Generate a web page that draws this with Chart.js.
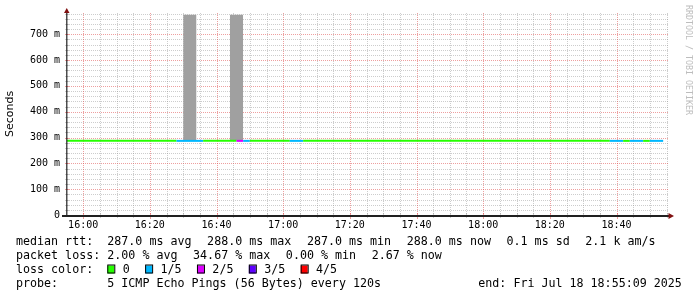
<!DOCTYPE html>
<html><head><meta charset="utf-8">
<style>html,body{margin:0;padding:0;background:#fff;}canvas{display:block;}</style>
<script src="https://cdn.jsdelivr.net/npm/chart.js@4.4.1/dist/chart.umd.min.js"></script>
</head><body>
<canvas id="c" width="697" height="297"></canvas>
<script>
// x values are minutes relative to 16:00 (graph spans 15:55:09 .. 18:55:09)
const timeStart = -4.85;
const timeEnd = 175.15;
// median rtt line, split into runs of equal packet loss
const segmentBounds = [-6, 28, 36, 46, 48, 50, 62, 66, 158, 162, 164, 168, 170, 174];
const medianRtt     = [287, 287, 287, 287, 287, 287, 287, 287, 287, 287, 287, 287, 287, 287];
const segmentLoss   = [0, 1, 0, 2, 1, 0, 1, 0, 1, 0, 1, 0, 1];
// smoke (ping spread) bars
const smokeStart = [30, 44];
const smokeEnd   = [34, 48];
const smokeMin   = [288, 288];
const smokeMax   = [775, 775];
// loss colours
const lossLabels = ['0', '1/5', '2/5', '3/5', '4/5'];
const lossColors = ['#26ff00', '#00b8ff', '#dd00ff', '#5e00ff', '#ff0000'];
// axes
const yMax = 782;
const yTickValues = [0, 100, 200, 300, 400, 500, 600, 700];
const yTickLabels = ['0', '100 m', '200 m', '300 m', '400 m', '500 m', '600 m', '700 m'];
const yMinorStep = 20;
const xTickValues = [0, 20, 40, 60, 80, 100, 120, 140, 160];
const xTickLabels = ['16:00', '16:20', '16:40', '17:00', '17:20', '17:40', '18:00', '18:20', '18:40'];
const xMinorStep = 5;
// legend statistics
const rttStatNames = ['avg', 'max', 'min', 'now'];
const rttStats = [287.0, 288.0, 287.0, 288.0];
const rttSd = 0.1;
const amPerSec = 2.1;
const lossStatNames = ['avg', 'max', 'min', 'now'];
const lossStats = [2.00, 34.67, 0.00, 2.67];
const probeText = '5 ICMP Echo Pings (56 Bytes) every 120s';
const endText = 'end: Fri Jul 18 18:55:09 2025';
const watermark = 'RRDTOOL / TOBI OETIKER';

const MINOR = 'rgba(144,144,144,0.45)';
const MAJOR = 'rgba(224,80,80,0.55)';
const ARROW = '#801010';
const AXIS = '#202020';

const datasets = [{
  type: 'line',
  data: segmentBounds.map((x, i) => ({x, y: medianRtt[i]})),
  borderWidth: 2,
  pointRadius: 0,
  tension: 0,
  fill: false,
  borderColor: lossColors[0],
  segment: { borderColor: c => lossColors[segmentLoss[c.p0DataIndex]] },
  order: 0
}];
smokeStart.forEach((s, i) => {
  datasets.push({
    type: 'line',
    data: [{x: s, y: smokeMax[i]}, {x: smokeEnd[i], y: smokeMax[i]}],
    borderWidth: 0,
    borderColor: 'rgba(0,0,0,0)',
    backgroundColor: '#a0a0a0',
    pointRadius: 0,
    fill: {value: smokeMin[i]},
    order: 1
  });
});

function allSteps(min, max, step) { const a = []; for (let v = min; v <= max + 1e-9; v += step) a.push(v); return a; }

const gridPlugin = {
  id: 'rrdgrid',
  beforeDatasetsDraw(chart) {
    const {ctx, chartArea: a, scales: {x, y}} = chart;
    ctx.save();
    ctx.lineWidth = 1;
    ctx.setLineDash([1, 1]);
    [false, true].forEach(pass => {
      allSteps(yMinorStep, yMax, yMinorStep).forEach(v => {
        if (yTickValues.includes(v) !== pass) return;
        const py = Math.round(y.getPixelForValue(v)) + 0.5;
        ctx.strokeStyle = pass ? MAJOR : MINOR;
        ctx.beginPath(); ctx.moveTo(a.left, py); ctx.lineTo(a.right + 1, py); ctx.stroke();
      });
      allSteps(0, timeEnd, xMinorStep).forEach(v => {
        if (xTickValues.includes(v) !== pass) return;
        const px = Math.round(x.getPixelForValue(v)) + 0.5;
        ctx.strokeStyle = pass ? MAJOR : MINOR;
        ctx.beginPath(); ctx.moveTo(px, a.top); ctx.lineTo(px, a.bottom); ctx.stroke();
      });
    });
    ctx.restore();
  },
  afterDraw(chart) {
    const {ctx, chartArea: a, scales: {x, y}} = chart;
    ctx.save();
    // small ticks on axes
    ctx.lineWidth = 1;
    allSteps(yMinorStep, yMax, yMinorStep).forEach(v => {
      const py = Math.round(y.getPixelForValue(v)) + 0.5;
      const maj = yTickValues.includes(v);
      ctx.strokeStyle = maj ? MAJOR : MINOR;
      ctx.beginPath(); ctx.moveTo(a.left - 2, py); ctx.lineTo(a.left + 2, py); ctx.stroke();
    });
    allSteps(0, timeEnd, xMinorStep).forEach(v => {
      const px = Math.round(x.getPixelForValue(v)) + 0.5;
      const maj = xTickValues.includes(v);
      ctx.strokeStyle = maj ? MAJOR : MINOR;
      ctx.beginPath(); ctx.moveTo(px, a.bottom - 2); ctx.lineTo(px, a.bottom + (maj ? 4 : 3)); ctx.stroke();
    });
    // axes
    ctx.strokeStyle = AXIS;
    ctx.globalAlpha = 0.8;
    ctx.lineWidth = 1.5;
    ctx.beginPath(); ctx.moveTo(a.left - 0.25, a.top - 1); ctx.lineTo(a.left - 0.25, a.bottom + 2); ctx.stroke();
    ctx.globalAlpha = 1;
    ctx.lineWidth = 2;
    ctx.beginPath(); ctx.moveTo(a.left - 5, a.bottom + 1); ctx.lineTo(a.right + 2, a.bottom + 1); ctx.stroke();
    // arrows
    ctx.fillStyle = ARROW;
    ctx.beginPath(); ctx.moveTo(a.left - 0.25, a.top - 5); ctx.lineTo(a.left + 2.5, a.top); ctx.lineTo(a.left - 3, a.top); ctx.closePath(); ctx.fill();
    ctx.beginPath(); ctx.moveTo(a.right + 7, a.bottom + 1); ctx.lineTo(a.right + 1.5, a.bottom - 2); ctx.lineTo(a.right + 1.5, a.bottom + 4); ctx.closePath(); ctx.fill();
    // watermark
    ctx.save();
    ctx.fillStyle = '#bdbdbd';
    ctx.font = '8.3px "DejaVu Sans Mono"';
    ctx.textBaseline = 'middle';
    ctx.textAlign = 'left';
    ctx.translate(688, 5);
    ctx.rotate(Math.PI / 2);
    ctx.fillText(watermark, 0, 0);
    ctx.restore();
    // legend
    const GAP = 15.6;
    const X0 = 16, X1 = 107.3;
    ctx.fillStyle = '#000';
    ctx.font = '11.67px "DejaVu Sans Mono"';
    ctx.textBaseline = 'middle';
    ctx.textAlign = 'left';
    const rowY = [241.5, 255.5, 269.5, 283.5];
    const drawRow = (yy, label, items) => {
      ctx.fillText(label, X0, yy);
      let xx = X1;
      items.forEach(t => { ctx.fillText(t, xx, yy); xx += ctx.measureText(t).width + GAP; });
    };
    drawRow(rowY[0], 'median rtt:', rttStats.map((v, i) => v.toFixed(1) + ' ms ' + rttStatNames[i])
      .concat([rttSd.toFixed(1) + ' ms sd', amPerSec.toFixed(1) + ' k am/s']));
    drawRow(rowY[1], 'packet loss:', lossStats.map((v, i) => v.toFixed(2) + ' % ' + lossStatNames[i]));
    ctx.fillText('loss color:', X0, rowY[2]);
    let bx = X1;
    lossLabels.forEach((l, i) => {
      ctx.fillStyle = lossColors[i];
      ctx.fillRect(bx, rowY[2] - 4, 7, 8);
      ctx.strokeStyle = '#000'; ctx.lineWidth = 1;
      ctx.strokeRect(bx + 0.5, rowY[2] - 4.5, 7, 8);
      ctx.fillStyle = '#000';
      const tx = bx + 15.4;
      ctx.fillText(l, tx, rowY[2]);
      bx = tx + ctx.measureText(l).width + 15.4;
    });
    ctx.fillText('probe:', X0, rowY[3]);
    ctx.fillText(probeText, X1, rowY[3]);
    ctx.fillText(endText, 478.3, rowY[3]);
    ctx.restore();
  }
};

new Chart(document.getElementById('c'), {
  data: { datasets },
  options: {
    responsive: false,
    animation: false,
    devicePixelRatio: 1,
    layout: { padding: { left: 0, right: 30, top: 13, bottom: 60 } },
    plugins: { legend: { display: false }, tooltip: { enabled: false } },
    scales: {
      x: {
        type: 'linear',
        position: 'bottom',
        min: timeStart,
        max: timeEnd,
        bounds: 'data',
        grid: { display: false, drawTicks: false },
        border: { display: false },
        afterBuildTicks: s => { s.ticks = allSteps(0, timeEnd, xMinorStep).map(v => ({value: v})); },
        afterFit: s => { s.height = 22; },
        ticks: {
          display: true, autoSkip: false, maxRotation: 0, minRotation: 0, padding: 4,
          color: '#000', font: { family: 'DejaVu Sans Mono', size: 10 },
          callback: v => { const i = xTickValues.indexOf(v); return i >= 0 ? xTickLabels[i] : ''; }
        }
      },
      y: {
        type: 'linear',
        min: 0,
        max: yMax,
        bounds: 'data',
        grid: { display: false, drawTicks: false },
        border: { display: false },
        afterBuildTicks: s => { s.ticks = allSteps(0, yMax, yMinorStep).map(v => ({value: v})); },
        afterFit: s => { s.width = 67; },
        title: { display: true, text: 'Seconds', color: '#000', font: { family: 'DejaVu Sans', size: 11 }, padding: { top: 3.4, bottom: 0 } },
        ticks: {
          autoSkip: false, padding: 7,
          color: '#000', font: { family: 'DejaVu Sans Mono', size: 10 },
          callback: v => { const i = yTickValues.indexOf(v); return i >= 0 ? yTickLabels[i] : ''; }
        }
      }
    }
  },
  plugins: [gridPlugin]
});
</script>
</body></html>
